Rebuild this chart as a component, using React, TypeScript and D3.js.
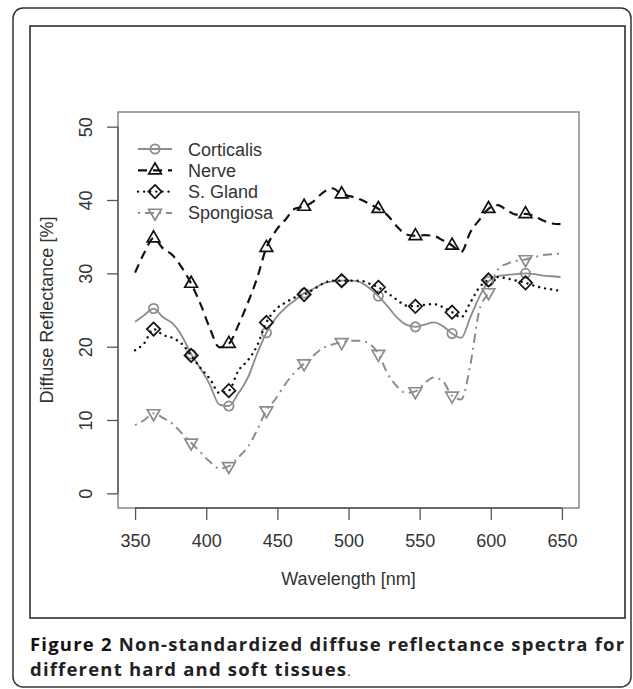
import React, { useRef, useEffect } from "react";
import * as d3 from "d3";

// wavelength grid of the spectra [nm]
const wavelengths = [
  350, 356.5, 363, 369.6, 376.2, 382.8, 389.4, 396, 402.6, 409.2, 415.9, 422.5,
  429.1, 435.7, 442.3, 448.9, 455.6, 462.2, 468.8, 475.4, 482, 488.6, 495.2,
  501.6, 508.1, 514.6, 521, 527.5, 534, 540.5, 547, 553.4, 559.9, 566.3, 572.8,
  579.2, 585.6, 592, 598.4, 604.9, 611.4, 617.9, 624.4, 630.6, 636.8, 643, 649,
];

// every 4th sample carries a symbol
const markerIdx = [2, 6, 10, 14, 18, 22, 26, 30, 34, 38, 42];

const corticalis = [
  23.4, 24.3, 25.2, 24.0, 23.2, 21.5, 19.0, 17.0, 14.8, 12.1, 11.9, 13.6, 15.7,
  19.0, 21.9, 23.9, 25.3, 26.3, 27.3, 27.9, 28.6, 28.9, 29.0, 29.0, 28.8, 28.0,
  26.9, 25.5, 24.0, 23.0, 22.7, 23.0, 23.3, 22.8, 21.8, 21.2, 24.0, 26.8, 28.9,
  29.6, 29.8, 29.9, 30.0, 29.9, 29.7, 29.6, 29.5,
];

const nerve = [
  30.1, 32.8, 34.8, 33.4, 32.5, 30.8, 28.6, 25.8, 22.5, 19.9, 20.4, 22.9, 25.9,
  29.3, 33.5, 35.8, 37.3, 38.8, 39.1, 39.8, 41.0, 41.6, 40.8, 40.5, 40.1, 39.5,
  38.8, 37.9, 36.4, 35.3, 35.1, 35.2, 35.1, 34.5, 33.8, 32.9, 35.6, 37.3, 38.8,
  39.3, 38.6, 38.0, 38.1, 37.8, 37.2, 36.8, 36.7,
];

const sGland = [
  19.5, 20.5, 22.4, 21.6, 21.2, 20.4, 18.8, 17.1, 15.6, 13.7, 14.0, 16.7, 18.1,
  20.1, 23.3, 25.1, 26.0, 26.7, 27.1, 27.8, 28.6, 29.0, 29.0, 29.0, 29.0, 28.6,
  28.1, 27.3, 26.4, 25.6, 25.5, 25.7, 25.8, 25.4, 24.7, 24.0, 26.0, 28.1, 29.1,
  29.5, 29.3, 29.0, 28.7, 28.3, 28.0, 27.8, 27.6,
];

const spongiosa = [
  9.3, 10.0, 10.9, 10.3, 9.5, 8.2, 6.9, 5.6, 4.3, 3.4, 3.7, 4.9, 6.3, 8.6, 11.3,
  12.9, 14.9, 16.5, 17.7, 18.8, 19.8, 20.3, 20.6, 20.8, 20.8, 20.4, 19.0, 16.3,
  14.6, 13.7, 13.9, 15.0, 15.8, 15.3, 13.3, 12.8, 17.5, 25.0, 27.4, 30.5, 31.3,
  31.7, 31.9, 32.2, 32.5, 32.6, 32.7,
];

const xTicks = [350, 400, 450, 500, 550, 600, 650];
const yTicks = [0, 10, 20, 30, 40, 50];

type Shape = "circle" | "triangle" | "diamond" | "triangleDown";

const seriesList: {
  name: string;
  values: number[];
  color: string;
  width: number;
  dash: string | null;
  cap: string;
  shape: Shape;
}[] = [
  { name: "Corticalis", values: corticalis, color: "#8c8c8c", width: 1.8, dash: null, cap: "butt", shape: "circle" },
  { name: "Nerve", values: nerve, color: "#111", width: 2.2, dash: "9,6", cap: "butt", shape: "triangle" },
  { name: "S. Gland", values: sGland, color: "#111", width: 2.4, dash: "0.1,6", cap: "round", shape: "diamond" },
  { name: "Spongiosa", values: spongiosa, color: "#8c8c8c", width: 2, dash: "2,5,9,5", cap: "butt", shape: "triangleDown" },
];

const W = 633;
const H = 689;

function symbolPath(shape: Shape, r: number) {
  if (shape === "circle") {
    return `M${-r},0A${r},${r} 0 1,0 ${r},0A${r},${r} 0 1,0 ${-r},0Z`;
  }
  if (shape === "diamond") {
    const d = r * 1.414;
    return `M0,${-d}L${d},0L0,${d}L${-d},0Z`;
  }
  const top = r * 1.555;
  const half = r * 1.347;
  const base = r * 0.778;
  if (shape === "triangle") {
    return `M0,${-top}L${half},${base}L${-half},${base}Z`;
  }
  return `M0,${top}L${half},${-base}L${-half},${-base}Z`;
}

const App: React.FC = () => {
  const ref = useRef<SVGSVGElement>(null);

  useEffect(() => {
    document.body.style.margin = "0";
    const svg = d3.select(ref.current);
    svg.selectAll("*").remove();

    const font = "'Liberation Sans', Arial, Helvetica, sans-serif";

    // outer rounded frame and inner figure frame
    svg
      .append("rect")
      .attr("x", 13)
      .attr("y", 8)
      .attr("width", 618)
      .attr("height", 679)
      .attr("rx", 10)
      .attr("fill", "none")
      .attr("stroke", "#333")
      .attr("stroke-width", 1.5);

    svg
      .append("rect")
      .attr("x", 30)
      .attr("y", 26)
      .attr("width", 595)
      .attr("height", 592)
      .attr("fill", "#fff")
      .attr("stroke", "#222")
      .attr("stroke-width", 1.5);

    const x = d3.scaleLinear().domain([338, 662]).range([118, 579]);
    const y = d3.scaleLinear().domain([-2, 52]).range([508, 112]);

    // plot box
    svg
      .append("rect")
      .attr("x", x(338))
      .attr("y", y(52))
      .attr("width", x(662) - x(338))
      .attr("height", y(-2) - y(52))
      .attr("fill", "none")
      .attr("stroke", "#777")
      .attr("stroke-width", 1.3);

    // x axis
    const gx = svg
      .append("g")
      .attr("transform", `translate(0,${y(-2)})`)
      .call(d3.axisBottom(x).tickValues(xTicks).tickSize(12).tickPadding(8).tickSizeOuter(0));
    gx.select(".domain")
      .attr("d", `M${x(350)},0H${x(650)}`)
      .attr("stroke", "#555")
      .attr("stroke-width", 1.3);
    gx.selectAll(".tick line").attr("stroke", "#555").attr("stroke-width", 1.3);
    gx.selectAll(".tick text")
      .attr("fill", "#333")
      .attr("dy", 0)
      .attr("y", 39)
      .style("font-family", font)
      .style("font-size", "18px");

    // y axis
    const gy = svg
      .append("g")
      .attr("transform", `translate(${x(338)},0)`)
      .call(d3.axisLeft(y).tickValues(yTicks).tickSize(11).tickSizeOuter(0));
    gy.select(".domain")
      .attr("d", `M0,${y(0)}V${y(50)}`)
      .attr("stroke", "#555")
      .attr("stroke-width", 1.3);
    gy.selectAll(".tick line").attr("stroke", "#555").attr("stroke-width", 1.3);
    gy.selectAll(".tick text")
      .attr("fill", "#333")
      .attr("x", null)
      .attr("dy", null)
      .attr("text-anchor", "middle")
      .attr("transform", "translate(-26,0) rotate(-90)")
      .style("font-family", font)
      .style("font-size", "18px");

    // axis titles
    svg
      .append("text")
      .attr("x", (x(338) + x(662)) / 2)
      .attr("y", 585)
      .attr("text-anchor", "middle")
      .attr("fill", "#333")
      .style("font-family", font)
      .style("font-size", "18px")
      .text("Wavelength [nm]");

    svg
      .append("text")
      .attr("transform", `translate(53,${(y(52) + y(-2)) / 2}) rotate(-90)`)
      .attr("text-anchor", "middle")
      .attr("fill", "#333")
      .style("font-family", font)
      .style("font-size", "18px")
      .text("Diffuse Reflectance [%]");

    // spectra
    const line = d3
      .line<number>()
      .x((_, i) => x(wavelengths[i]))
      .y((d) => y(d))
      .curve(d3.curveMonotoneX);

    seriesList.forEach((s) => {
      svg
        .append("path")
        .datum(s.values)
        .attr("fill", "none")
        .attr("stroke", s.color)
        .attr("stroke-width", s.width)
        .attr("stroke-linecap", s.cap)
        .attr("stroke-dasharray", s.dash)
        .attr("d", line);

      svg
        .append("g")
        .selectAll("path")
        .data(markerIdx)
        .enter()
        .append("path")
        .attr("transform", (i) => `translate(${x(wavelengths[i])},${y(s.values[i])})`)
        .attr("d", symbolPath(s.shape, 4.7))
        .attr("fill", "none")
        .attr("stroke", s.color)
        .attr("stroke-width", 1.7);
    });

    // legend
    const legend = svg.append("g").attr("transform", "translate(138,149)");
    seriesList.forEach((s, i) => {
      const row = legend.append("g").attr("transform", `translate(0,${i * 21.3})`);
      row
        .append("path")
        .attr("d", "M0,0H34")
        .attr("fill", "none")
        .attr("stroke", s.color)
        .attr("stroke-width", s.width)
        .attr("stroke-linecap", s.cap)
        .attr("stroke-dasharray", s.dash);
      row
        .append("path")
        .attr("transform", "translate(17,0)")
        .attr("d", symbolPath(s.shape, 4.7))
        .attr("fill", "none")
        .attr("stroke", s.color)
        .attr("stroke-width", 1.7);
      row
        .append("text")
        .attr("x", 50)
        .attr("y", 6.5)
        .attr("fill", "#333")
        .style("font-family", font)
        .style("font-size", "18px")
        .text(s.name);
    });

    // caption, first line justified to the frame width
    const capFont = "'Open Sans', 'Noto Sans', sans-serif";
    const cap1 = svg
      .append("text")
      .attr("x", 30)
      .attr("y", 651)
      .style("font-family", capFont)
      .style("font-size", "18.5px")
      .style("font-weight", "bold")
      .style("letter-spacing", "1.2px")
      .attr("fill", "#222");
    cap1.append("tspan").attr("fill", "#111").text("Figure 2");
    cap1.append("tspan").text(" Non-standardized diffuse reflectance spectra for");
    const node = cap1.node() as SVGTextElement;
    const natural = node.getComputedTextLength();
    const gaps = 6;
    cap1.style("word-spacing", `${Math.max(0, (625 - 30 - natural) / gaps)}px`);

    const cap2 = svg
      .append("text")
      .attr("x", 30)
      .attr("y", 676)
      .style("font-family", capFont)
      .style("font-size", "18.5px")
      .style("letter-spacing", "1.2px")
      .attr("fill", "#222");
    cap2.append("tspan").style("font-weight", "bold").text("different hard and soft tissues");
    cap2.append("tspan").style("font-size", "13px").text(".");
  }, []);

  return <svg ref={ref} width={W} height={H} style={{ display: "block", background: "#fff" }} />;
};

export default App;
